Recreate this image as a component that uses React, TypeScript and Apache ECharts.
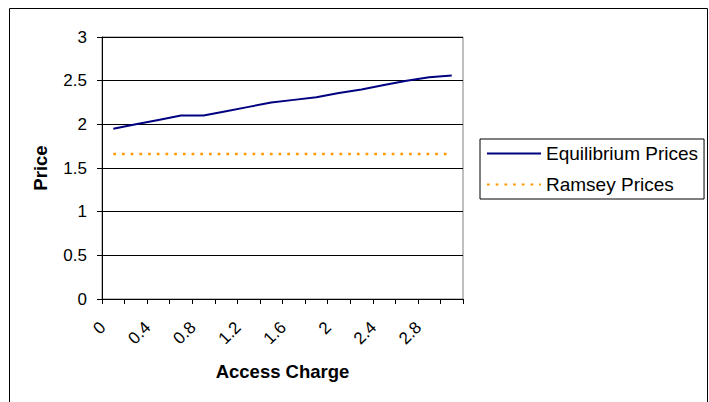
import { useEffect, useRef } from 'react';
import * as echarts from 'echarts';

// Access charge steps along the category axis
const accessCharge = ['0', '0.2', '0.4', '0.6', '0.8', '1', '1.2', '1.4', '1.6', '1.8', '2', '2.2', '2.4', '2.6', '2.8', '3'];

// Prices at each access charge
const equilibriumPrices = [1.95, 2.0, 2.05, 2.1, 2.1, 2.15, 2.2, 2.25, 2.28, 2.31, 2.36, 2.4, 2.45, 2.5, 2.54, 2.56];
const ramseyPrices = [1.66, 1.66, 1.66, 1.66, 1.66, 1.66, 1.66, 1.66, 1.66, 1.66, 1.66, 1.66, 1.66, 1.66, 1.66, 1.66];

const FONT = '"Liberation Sans", Arial, sans-serif';

export default function App() {
  const ref = useRef<HTMLDivElement>(null);

  useEffect(() => {
    if (!ref.current) return;
    const chart = echarts.init(ref.current, null, { renderer: 'svg' });
    chart.setOption({
      animation: false,
      backgroundColor: '#ffffff',
      textStyle: { fontFamily: FONT, color: '#000' },
      graphic: [
        {
          type: 'rect',
          shape: { x: 9.5, y: 8.5, width: 698, height: 420 },
          style: { fill: 'none', stroke: '#000', lineWidth: 1 },
          silent: true,
        },
      ],
      grid: {
        left: 102,
        top: 37,
        width: 361,
        height: 262,
        show: true,
        borderColor: '#808080',
        borderWidth: 1,
        backgroundColor: 'transparent',
      },
      legend: {
        orient: 'vertical',
        left: 480,
        top: 139,
        padding: [5, 6, 5, 6],
        itemWidth: 54,
        itemHeight: 18,
        itemGap: 12,
        borderColor: '#000',
        borderWidth: 1,
        // line-only keys: hide the marker the line series would add
        itemStyle: { opacity: 0 },
        textStyle: { fontFamily: FONT, fontSize: 19, color: '#000' },
        data: ['Equilibrium Prices', 'Ramsey Prices'],
      },
      xAxis: {
        type: 'category',
        data: accessCharge,
        boundaryGap: true,
        name: 'Access Charge',
        nameLocation: 'middle',
        nameGap: 63,
        nameTextStyle: { fontFamily: FONT, fontSize: 18.5, fontWeight: 'bold', color: '#000' },
        axisLine: { lineStyle: { color: '#000', width: 1 } },
        axisTick: { show: true, interval: 0, length: 5, lineStyle: { color: '#000' } },
        axisLabel: {
          interval: 1,
          rotate: 45,
          fontSize: 17,
          margin: 15,
          padding: [0, 15, 0, 0],
          color: '#000',
          fontFamily: FONT,
        },
        splitLine: { show: false },
      },
      yAxis: {
        type: 'value',
        min: 0,
        max: 3,
        interval: 0.5,
        name: 'Price',
        nameLocation: 'middle',
        nameGap: 52,
        nameRotate: 90,
        nameTextStyle: { fontFamily: FONT, fontSize: 18.5, fontWeight: 'bold', color: '#000' },
        axisLine: { show: true, lineStyle: { color: '#000', width: 1 } },
        axisTick: { show: true, length: 5, lineStyle: { color: '#000' } },
        axisLabel: { fontSize: 17, margin: 15, color: '#000', fontFamily: FONT },
        splitLine: { show: true, lineStyle: { color: '#000', width: 1 } },
      },
      series: [
        {
          name: 'Equilibrium Prices',
          type: 'line',
          data: equilibriumPrices,
          symbol: 'none',
          color: '#000080',
          lineStyle: { color: '#000080', width: 2 },
        },
        {
          name: 'Ramsey Prices',
          type: 'line',
          data: ramseyPrices,
          symbol: 'none',
          color: '#FF9900',
          lineStyle: { color: '#FF9900', width: 2.5, type: [2.7, 6] },
        },
      ],
    });
    return () => chart.dispose();
  }, []);

  return (
    <div
      ref={ref}
      style={{ position: 'fixed', left: 0, top: 0, width: 709, height: 402 }}
    />
  );
}
